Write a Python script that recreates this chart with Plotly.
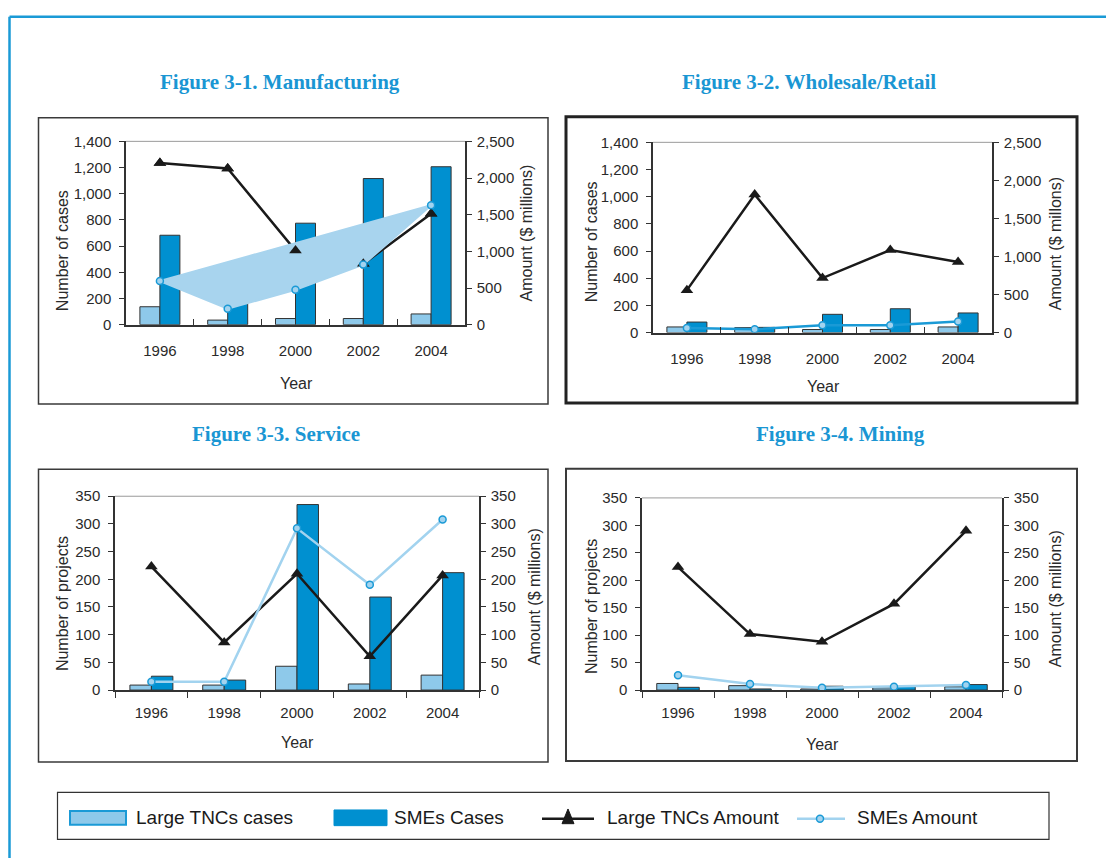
import plotly.graph_objects as go

W, H = 1106, 866

# ---------------- data ----------------
years = ["1996", "1998", "2000", "2002", "2004"]

mfg_large_cases = [137, 35, 47, 47, 82]
mfg_sme_cases = [683, 240, 775, 1116, 1206]
mfg_large_amt = [2206, 2131, 1010, 830, 1512]
mfg_sme_amt = [596, 218, 476, 819, 1628]

wr_large_cases = [41, 36, 22, 22, 41]
wr_sme_cases = [77, 38, 134, 175, 144]
wr_large_amt = [557, 1814, 716, 1085, 926]
wr_sme_amt = [60, 43, 94, 94, 146]

svc_large_cases = [9, 9, 43, 11, 27]
svc_sme_cases = [25, 18, 335, 168, 212]
svc_large_amt = [223, 86, 210, 61, 207]
svc_sme_amt = [15, 15, 292, 190, 308]

min_large_cases = [12, 8, 2, 4, 6]
min_sme_cases = [5, 2, 7, 7, 10]
min_large_amt = [224, 102, 88, 157, 290]
min_sme_amt = [27, 11, 4, 6, 9]

titles = ["Figure 3-1. Manufacturing", "Figure 3-2. Wholesale/Retail",
          "Figure 3-3. Service", "Figure 3-4. Mining"]
legend_labels = ["Large TNCs cases", "SMEs Cases", "Large TNCs Amount", "SMEs Amount"]

# ---------------- styles ----------------
FONT = "Liberation Sans Narrow, Arial Narrow, Liberation Sans, Arial, sans-serif"
SERIF = "Liberation Serif, Times New Roman, serif"
LIGHT = "#8ec9ea"
DARK = "#0090d0"
OUTL = "#333333"
BLACK = "#1a1a1a"
SMEL = "#a2d3ef"
BLUE = "#1a9ad6"
TXT = "#2a2a2a"
TICK_SIZE = 15
ATITLE_SIZE = 16


def px(x):
    return x / W


def py(y):
    return 1 - y / H


panels = [
    dict(data=(mfg_large_cases, mfg_sme_cases, mfg_large_amt, mfg_sme_amt),
         xd=(126, 465), yd=(135, 322), lrange=1400, ldt=200, rrange=2500, rdt=500,
         ltitle="Number of cases", rtitle="Amount ($ millions)", xticks="inside",
         box=(38.5, 111, 548, 403), boxw=1.5, boxc="#3a3a3a",
         title_xy=(280, 74), lt_xy=(62, 247), rt_xy=(527, 229), yr_xy=(296, 382),
         smecolor=SMEL, fill=True),
    dict(data=(wr_large_cases, wr_sme_cases, wr_large_amt, wr_sme_amt),
         xd=(653, 992), yd=(136, 330), lrange=1400, ldt=200, rrange=2500, rdt=500,
         ltitle="Number of cases", rtitle="Amount ($ millons)", xticks="inside",
         box=(566, 110, 1077, 402), boxw=3, boxc="#222222",
         title_xy=(809, 74), lt_xy=(591, 238), rt_xy=(1055, 240), yr_xy=(823, 385),
         smecolor=BLUE, fill=False),
    dict(data=(svc_large_cases, svc_sme_cases, svc_large_amt, svc_sme_amt),
         xd=(115, 479), yd=(497, 694.7), lrange=350, ldt=50, rrange=350, rdt=50,
         ltitle="Number of projects", rtitle="Amount ($ millions)", xticks="outside",
         box=(38.5, 469.5, 548, 768), boxw=1.5, boxc="#3a3a3a",
         title_xy=(276, 434), lt_xy=(62, 607), rt_xy=(534, 600), yr_xy=(297, 748),
         smecolor=SMEL, fill=False),
    dict(data=(min_large_cases, min_sme_cases, min_large_amt, min_sme_amt),
         xd=(642, 1002), yd=(498.7, 694.7), lrange=350, ldt=50, rrange=350, rdt=50,
         ltitle="Number of projects", rtitle="Amount ($ millions)", xticks="outside",
         box=(566, 469, 1077, 767), boxw=2, boxc="#3a3a3a",
         title_xy=(840, 434), lt_xy=(591, 610), rt_xy=(1055, 602), yr_xy=(822, 750),
         smecolor=SMEL, fill=False),
]

fig = go.Figure()
layout = dict(width=W, height=H, margin=dict(l=0, r=0, t=0, b=0),
              paper_bgcolor="white", plot_bgcolor="rgba(0,0,0,0)",
              showlegend=False, barmode="group", bargap=0.41, bargroupgap=0)
shapes = []
annotations = []

for i, p in enumerate(panels):
    n = i + 1
    xa = "x" if n == 1 else f"x{n}"
    yl_id = 2 * n - 1
    yr_id = 2 * n
    yl = "y" if yl_id == 1 else f"y{yl_id}"
    yr = f"y{yr_id}"
    xkey = "xaxis" if n == 1 else f"xaxis{n}"
    ylkey = "yaxis" if yl_id == 1 else f"yaxis{yl_id}"
    yrkey = f"yaxis{yr_id}"
    lc, sc, la, sa = p["data"]

    fig.add_trace(go.Bar(x=years, y=lc, xaxis=xa, yaxis=yl, marker=dict(color=LIGHT, line=dict(color=OUTL, width=1)),
                         offsetgroup="a", name=legend_labels[0]))
    fig.add_trace(go.Bar(x=years, y=sc, xaxis=xa, yaxis=yl, marker=dict(color=DARK, line=dict(color=OUTL, width=1)),
                         offsetgroup="b", name=legend_labels[1]))
    fig.add_trace(go.Scatter(x=years, y=la, xaxis=xa, yaxis=yr, mode="lines+markers",
                             line=dict(color=BLACK, width=2.5),
                             marker=dict(symbol="triangle-up", size=11, color=BLACK),
                             name=legend_labels[2]))
    if p["fill"]:
        fig.add_trace(go.Scatter(x=years + [years[0]], y=sa + [sa[0]], xaxis=xa, yaxis=yr, mode="lines",
                                 fill="toself", fillcolor="#a8d4ee", line=dict(color="#a8d4ee", width=2),
                                 hoverinfo="skip"))
        fig.add_trace(go.Scatter(x=years, y=la, xaxis=xa, yaxis=yr, mode="markers",
                                 marker=dict(symbol="triangle-up", size=11, color=BLACK), hoverinfo="skip"))
        fig.add_trace(go.Scatter(x=years, y=sa, xaxis=xa, yaxis=yr, mode="markers",
                                 marker=dict(symbol="circle", size=7, color=SMEL, line=dict(color=BLUE, width=1.5)),
                                 name=legend_labels[3]))
    else:
        fig.add_trace(go.Scatter(x=years, y=sa, xaxis=xa, yaxis=yr, mode="lines+markers",
                                 line=dict(color=p["smecolor"], width=2.5),
                                 marker=dict(symbol="circle", size=7, color=SMEL, line=dict(color=BLUE, width=1.5)),
                                 name=legend_labels[3]))

    x0, x1 = p["xd"]
    y0, y1 = p["yd"]
    layout[xkey] = dict(domain=[px(x0), px(x1)], anchor=yl, type="category", range=[-0.5, 4.5],
                        tickson="boundaries", ticks=p["xticks"], ticklen=6, tickcolor=OUTL, tickwidth=1.2,
                        showline=True, linecolor=OUTL, linewidth=1.5, showgrid=False, zeroline=False,
                        ticklabelstandoff=8 if p["xticks"] == "outside" else 12,
                        tickfont=dict(family=FONT, size=TICK_SIZE, color=TXT))
    layout[ylkey] = dict(domain=[py(y1), py(y0)], anchor=xa, range=[0, p["lrange"]], dtick=p["ldt"],
                         tickformat=",", ticks="outside", ticklen=5, tickcolor=OUTL, showline=True,
                         linecolor=OUTL, linewidth=1.5, showgrid=False, zeroline=False,
                         ticklabelstandoff=5, tickfont=dict(family=FONT, size=TICK_SIZE, color=TXT))
    layout[yrkey] = dict(overlaying=yl, side="right", anchor=xa, range=[0, p["rrange"]], dtick=p["rdt"],
                         tickformat=",", ticks="outside", ticklen=5, tickcolor=OUTL, showline=True,
                         linecolor=OUTL, linewidth=1.5, showgrid=False, zeroline=False,
                         ticklabelstandoff=2, tickfont=dict(family=FONT, size=TICK_SIZE, color=TXT))

    # top border of plot area (thin gray)
    shapes.append(dict(type="line", xref="paper", yref="paper", x0=px(x0), x1=px(x1), y0=py(y0), y1=py(y0),
                       line=dict(color="#9a9a9a", width=1)))
    # panel box
    bx0, by0, bx1, by1 = p["box"]
    shapes.append(dict(type="rect", xref="paper", yref="paper", x0=px(bx0), x1=px(bx1), y0=py(by1), y1=py(by0),
                       line=dict(color=p["boxc"], width=p["boxw"]), layer="below"))

    tx, ty = p["title_xy"]
    annotations.append(dict(text=f"<b>{titles[i]}</b>", x=px(tx), y=py(ty), xref="paper", yref="paper",
                            showarrow=False, xanchor="center", yanchor="middle",
                            font=dict(family=SERIF, size=21, color="#1a96d3")))
    ax_, ay_ = p["lt_xy"]
    annotations.append(dict(text=p["ltitle"], x=px(ax_), y=py(ay_), xref="paper", yref="paper", showarrow=False,
                            textangle=-90, xanchor="center", yanchor="middle",
                            font=dict(family=FONT, size=ATITLE_SIZE, color=TXT)))
    ax_, ay_ = p["rt_xy"]
    annotations.append(dict(text=p["rtitle"], x=px(ax_), y=py(ay_), xref="paper", yref="paper", showarrow=False,
                            textangle=-90, xanchor="center", yanchor="middle",
                            font=dict(family=FONT, size=ATITLE_SIZE, color=TXT)))
    ax_, ay_ = p["yr_xy"]
    annotations.append(dict(text="Year", x=px(ax_), y=py(ay_), xref="paper", yref="paper", showarrow=False,
                            xanchor="center", yanchor="middle", font=dict(family=FONT, size=ATITLE_SIZE, color=TXT)))

# outer blue frame
shapes.append(dict(type="line", xref="paper", yref="paper", x0=px(9.5), x1=px(9.5), y0=py(8), y1=0,
                   line=dict(color=BLUE, width=2.5)))
shapes.append(dict(type="line", xref="paper", yref="paper", x0=px(9.5), x1=1, y0=py(8), y1=py(8),
                   line=dict(color=BLUE, width=2.5)))

# legend box
shapes.append(dict(type="rect", xref="paper", yref="paper", x0=px(57.5), x1=px(1049), y0=py(847), y1=py(799),
                   line=dict(color="#333333", width=1.2)))
# legend swatches
shapes.append(dict(type="rect", xref="paper", yref="paper", x0=px(70), x1=px(126), y0=py(832), y1=py(818),
                   fillcolor=LIGHT, line=dict(color=BLUE, width=2)))
shapes.append(dict(type="rect", xref="paper", yref="paper", x0=px(334), x1=px(387), y0=py(833), y1=py(817),
                   fillcolor=DARK, line=dict(color=DARK, width=1)))
shapes.append(dict(type="line", xref="paper", yref="paper", x0=px(542), x1=px(594), y0=py(826), y1=py(826),
                   line=dict(color=BLACK, width=2.5)))
tri = f"M {px(568)} {py(816)} L {px(574)} {py(831)} L {px(562)} {py(831)} Z"
shapes.append(dict(type="path", xref="paper", yref="paper", path=tri, fillcolor=BLACK, line=dict(color=BLACK, width=1)))
shapes.append(dict(type="line", xref="paper", yref="paper", x0=px(797), x1=px(845), y0=py(826), y1=py(826),
                   line=dict(color=SMEL, width=2.5)))
shapes.append(dict(type="circle", xref="paper", yref="paper", x0=px(816.5), x1=px(823.5), y0=py(829.5), y1=py(822.5),
                   fillcolor=SMEL, line=dict(color=BLUE, width=1.5)))

for lab, lx in zip(legend_labels, [134, 392, 605, 855]):
    annotations.append(dict(text=lab, x=px(lx), y=py(825), xref="paper", yref="paper", showarrow=False,
                            xanchor="left", yanchor="middle", font=dict(family=FONT, size=19, color="#1a1a1a")))

layout["shapes"] = shapes
layout["annotations"] = annotations
fig.update_layout(**layout)
fig.write_html("out.html")
